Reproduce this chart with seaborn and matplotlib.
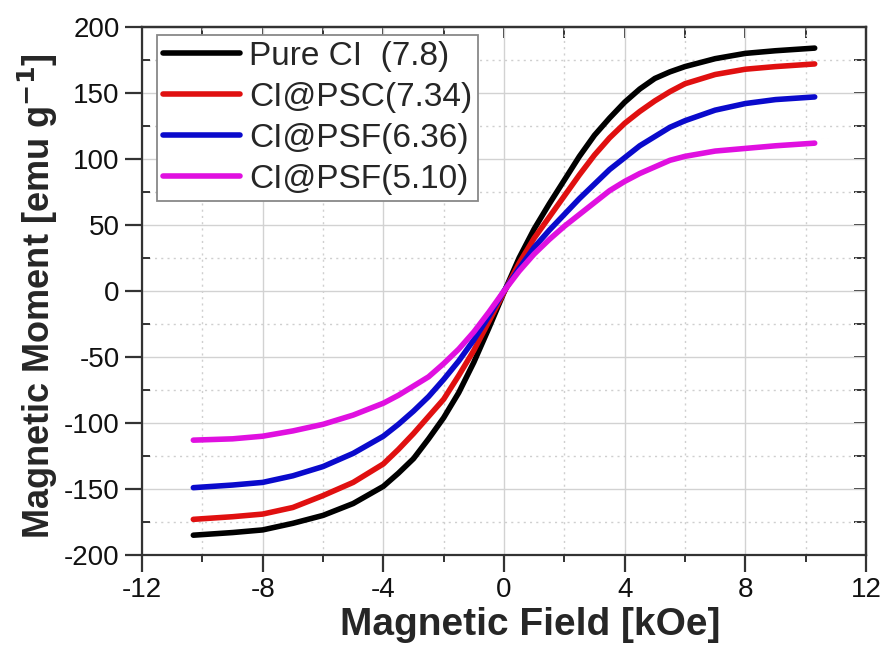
import numpy as np
import pandas as pd
import matplotlib
matplotlib.use("Agg")
import matplotlib.pyplot as plt
import seaborn as sns
from matplotlib.ticker import MultipleLocator, NullFormatter

field = [-10.3, -9, -8, -7, -6, -5, -4, -3.5, -3, -2.5, -2, -1.5, -1, -0.5, 0,
         0.5, 1, 1.5, 2, 2.5, 3, 3.5, 4, 4.5, 5, 5.5, 6, 7, 8, 9, 10.3]
pure_ci = [-185, -183, -181, -176, -170, -161, -148, -138, -127, -112, -96, -77, -54, -28, -1,
           25, 47, 66, 84, 102, 118, 131, 143, 153, 161, 166, 170, 176, 180, 182, 184]
ci_psc = [-173, -171, -169, -164, -155, -145, -131, -120, -108, -95, -82, -64, -45, -23, -1,
          21, 40, 56, 72, 88, 103, 116, 127, 136, 144, 151, 157, 164, 168, 170, 172]
ci_psf_636 = [-149, -147, -145, -140, -133, -123, -110, -101, -91, -80, -67, -53, -37, -19, 0,
              17, 33, 46, 58, 70, 81, 92, 101, 110, 117, 124, 129, 137, 142, 145, 147]
ci_psf_510 = [-113, -112, -110, -106, -101, -94, -85, -79, -72, -65, -55, -44, -31, -16, 0,
              15, 28, 39, 49, 58, 67, 76, 83, 89, 94, 99, 102, 106, 108, 110, 112]

labels = ["Pure CI  (7.8)", "CI@PSC(7.34)", "CI@PSF(6.36)", "CI@PSF(5.10)"]
colors = ["#000000", "#e01010", "#0a0acc", "#e010e0"]
x_ticks = [-12, -8, -4, 0, 4, 8, 12]
y_ticks = [-200, -150, -100, -50, 0, 50, 100, 150, 200]

series = [pure_ci, ci_psc, ci_psf_636, ci_psf_510]
df = pd.concat([pd.DataFrame({"field": field, "moment": s, "sample": lab})
                for s, lab in zip(series, labels)], ignore_index=True)

sns.set_style("white")
plt.rcParams["font.family"] = ["Liberation Sans", "DejaVu Sans"]
plt.rcParams["axes.unicode_minus"] = False

fig = plt.figure(figsize=(8.85, 6.47), dpi=100)
ax = fig.add_axes([0.1605, 0.1422, 0.818, 0.8161])

sns.lineplot(data=df, x="field", y="moment", hue="sample", hue_order=labels,
             palette=colors, linewidth=4.0, ax=ax, sort=False)

ax.set_xlim(-12, 12)
ax.set_ylim(-200, 200)
ax.set_xticks(x_ticks)
ax.set_xticklabels([str(v) for v in x_ticks])
ax.set_yticks(y_ticks)
ax.set_yticklabels([str(v) for v in y_ticks])
ax.xaxis.set_minor_locator(MultipleLocator(2))
ax.yaxis.set_minor_locator(MultipleLocator(25))

ax.grid(which="major", color="#d2d2d2", linewidth=1.0, linestyle="-")
ax.grid(which="minor", color="#cfcfcf", linewidth=1.0, linestyle=(0, (1.5, 3)))
ax.set_axisbelow(True)

for sp in ax.spines.values():
    sp.set_color("#333333")
    sp.set_linewidth(1.6)

ax.tick_params(which="both", bottom=True, left=True, top=False, right=False)
ax.tick_params(which="major", direction="out", length=12, width=1.6, color="#333333",
               labelsize=20, labelcolor="#111111", pad=4)
ax.tick_params(axis="x", which="minor", direction="out", length=5, width=1.4, color="#333333")
ax.tick_params(axis="y", which="minor", direction="in", length=6, width=1.4, color="#333333")

# inward ticks on top and right
top = ax.secondary_xaxis("top")
top.set_xticks(x_ticks)
top.xaxis.set_minor_locator(MultipleLocator(2))
top.tick_params(which="both", direction="in", length=8, width=1.4, color="#333333",
                top=True, bottom=False, labeltop=False)
top.xaxis.set_major_formatter(NullFormatter())
right = ax.secondary_yaxis("right")
right.set_yticks(y_ticks)
right.yaxis.set_minor_locator(MultipleLocator(25))
right.tick_params(which="both", direction="in", length=9, width=1.4, color="#333333",
                  right=True, left=False, labelright=False)
right.yaxis.set_major_formatter(NullFormatter())
for sec in (top, right):
    for sp in sec.spines.values():
        sp.set_color("#333333")
        sp.set_linewidth(1.6)

ax.set_xlabel("Magnetic Field [kOe]", fontsize=28, fontweight="bold")
ax.xaxis.set_label_coords(0.536, -0.098)
ax.set_ylabel("Magnetic Moment [emu g$^{\\mathbf{-1}}$]", fontsize=26, fontweight="bold")
ax.yaxis.set_label_coords(-0.114, 0.49)

leg = ax.legend(loc="upper left", bbox_to_anchor=(0.0207, 0.985), fontsize=24,
                frameon=True, fancybox=False, handlelength=2.3, handletextpad=0.28,
                labelspacing=0.3, borderpad=0.18, borderaxespad=0.0)
leg.get_frame().set_edgecolor("#888888")
leg.get_frame().set_linewidth(1.3)
leg.get_frame().set_alpha(1)
for line in leg.get_lines():
    line.set_linewidth(4.0)

fig.savefig("out.png", dpi=100)
